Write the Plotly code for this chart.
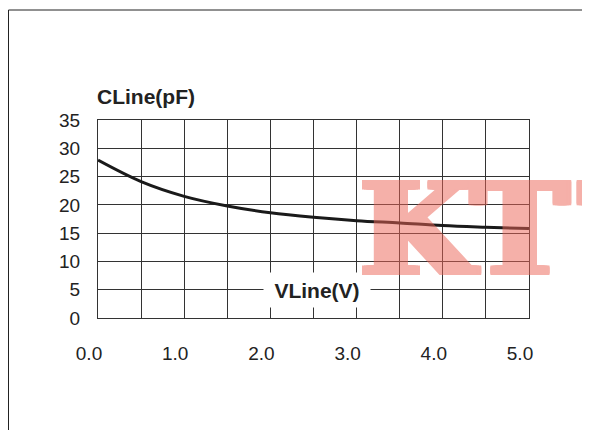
import plotly.graph_objects as go

# Data
v_line = [0.0, 0.5, 1.0, 1.5, 2.0, 2.5, 3.0, 3.5, 4.0, 4.5, 5.0]
c_line = [27.9, 24.1, 21.5, 19.8, 18.6, 17.8, 17.2, 16.8, 16.35, 16.05, 15.8]
x_ticks = [0, 1, 2, 3, 4, 5]
y_ticks = [0, 5, 10, 15, 20, 25, 30, 35]

OFF = 8  # page body margin offset
W, H = 590 - OFF, 430 - OFF
L, R, T, B = 98 - OFF, W - (529 - OFF), 120 - OFF, H - (318 - OFF)
pw, ph = W - L - R, H - T - B

def px_x(p):
    return (p - OFF - L) / pw

def px_y(p):
    return 1 - (p - OFF - T) / ph

fig = go.Figure()
fig.add_trace(go.Scatter(
    x=v_line, y=c_line, mode="lines",
    line=dict(color="#1a1a1a", width=3, shape="spline", smoothing=1.0),
    hoverinfo="skip", showlegend=False,
))

font_main = "Liberation Sans, Arial, sans-serif"

wm_color = "rgb(236,100,86)"
shadow_parts = []
for dx in (-5, -3, -1, 0, 1, 3, 5):
    for dy in (-1, 0, 1):
        if dx == 0 and dy == 0:
            continue
        shadow_parts.append(f"{dx}px {dy}px 0 {wm_color}")
wm_shadow = ", ".join(shadow_parts)

fig.update_layout(
    width=W, height=H,
    margin=dict(l=L, r=R, t=T, b=B),
    paper_bgcolor="white", plot_bgcolor="white",
    font=dict(family=font_main, color="#222222", size=18),
    xaxis=dict(
        range=[0, 5], tickvals=x_ticks, ticktext=[f"{v:.1f}" for v in x_ticks],
        showgrid=True, gridcolor="#333333", gridwidth=1,
        minor=dict(dtick=0.5, showgrid=True, gridcolor="#333333", gridwidth=1),
        showline=True, linecolor="#333333", linewidth=1, mirror=True,
        zeroline=False, ticks="", ticklabelstandoff=18, ticklabelshift=-9,
        tickfont=dict(size=19, family=font_main, color="#222222"),
        fixedrange=True,
    ),
    yaxis=dict(
        range=[0, 35], tickvals=y_ticks,
        showgrid=True, gridcolor="#333333", gridwidth=1,
        showline=True, linecolor="#333333", linewidth=1, mirror=True,
        zeroline=False, ticks="", ticklabelstandoff=13,
        tickfont=dict(size=19, family=font_main, color="#222222"),
        fixedrange=True,
    ),
    shapes=[
        dict(type="line", xref="paper", yref="paper",
             x0=px_x(8.5), x1=px_x(600), y0=px_y(10), y1=px_y(10),
             line=dict(color="#222222", width=1)),
        dict(type="line", xref="paper", yref="paper",
             x0=px_x(8.5), x1=px_x(8.5), y0=px_y(10), y1=px_y(440),
             line=dict(color="#222222", width=1)),
    ],
    annotations=[
        dict(text="<b>CLine(pF)</b>", xref="paper", yref="paper",
             x=px_x(95), y=px_y(96), xanchor="left", yanchor="middle",
             showarrow=False, font=dict(size=21, family=font_main, color="#222222")),
        dict(text="<b>VLine(V)</b>", xref="x", yref="y",
             x=2.54, y=5, xanchor="center", yanchor="middle",
             showarrow=False, bgcolor="white", width=104, height=32,
             font=dict(size=21, family=font_main, color="#222222")),
        dict(text="<b>KT\u200aT</b>", xref="paper", yref="paper",
             x=px_x(359), y=px_y(229), xanchor="left", yanchor="middle",
             showarrow=False, opacity=0.5,
             font=dict(size=128, family="DejaVu Serif, serif",
                       color=wm_color, shadow=wm_shadow)),
    ],
)

fig.write_html("out.html")
